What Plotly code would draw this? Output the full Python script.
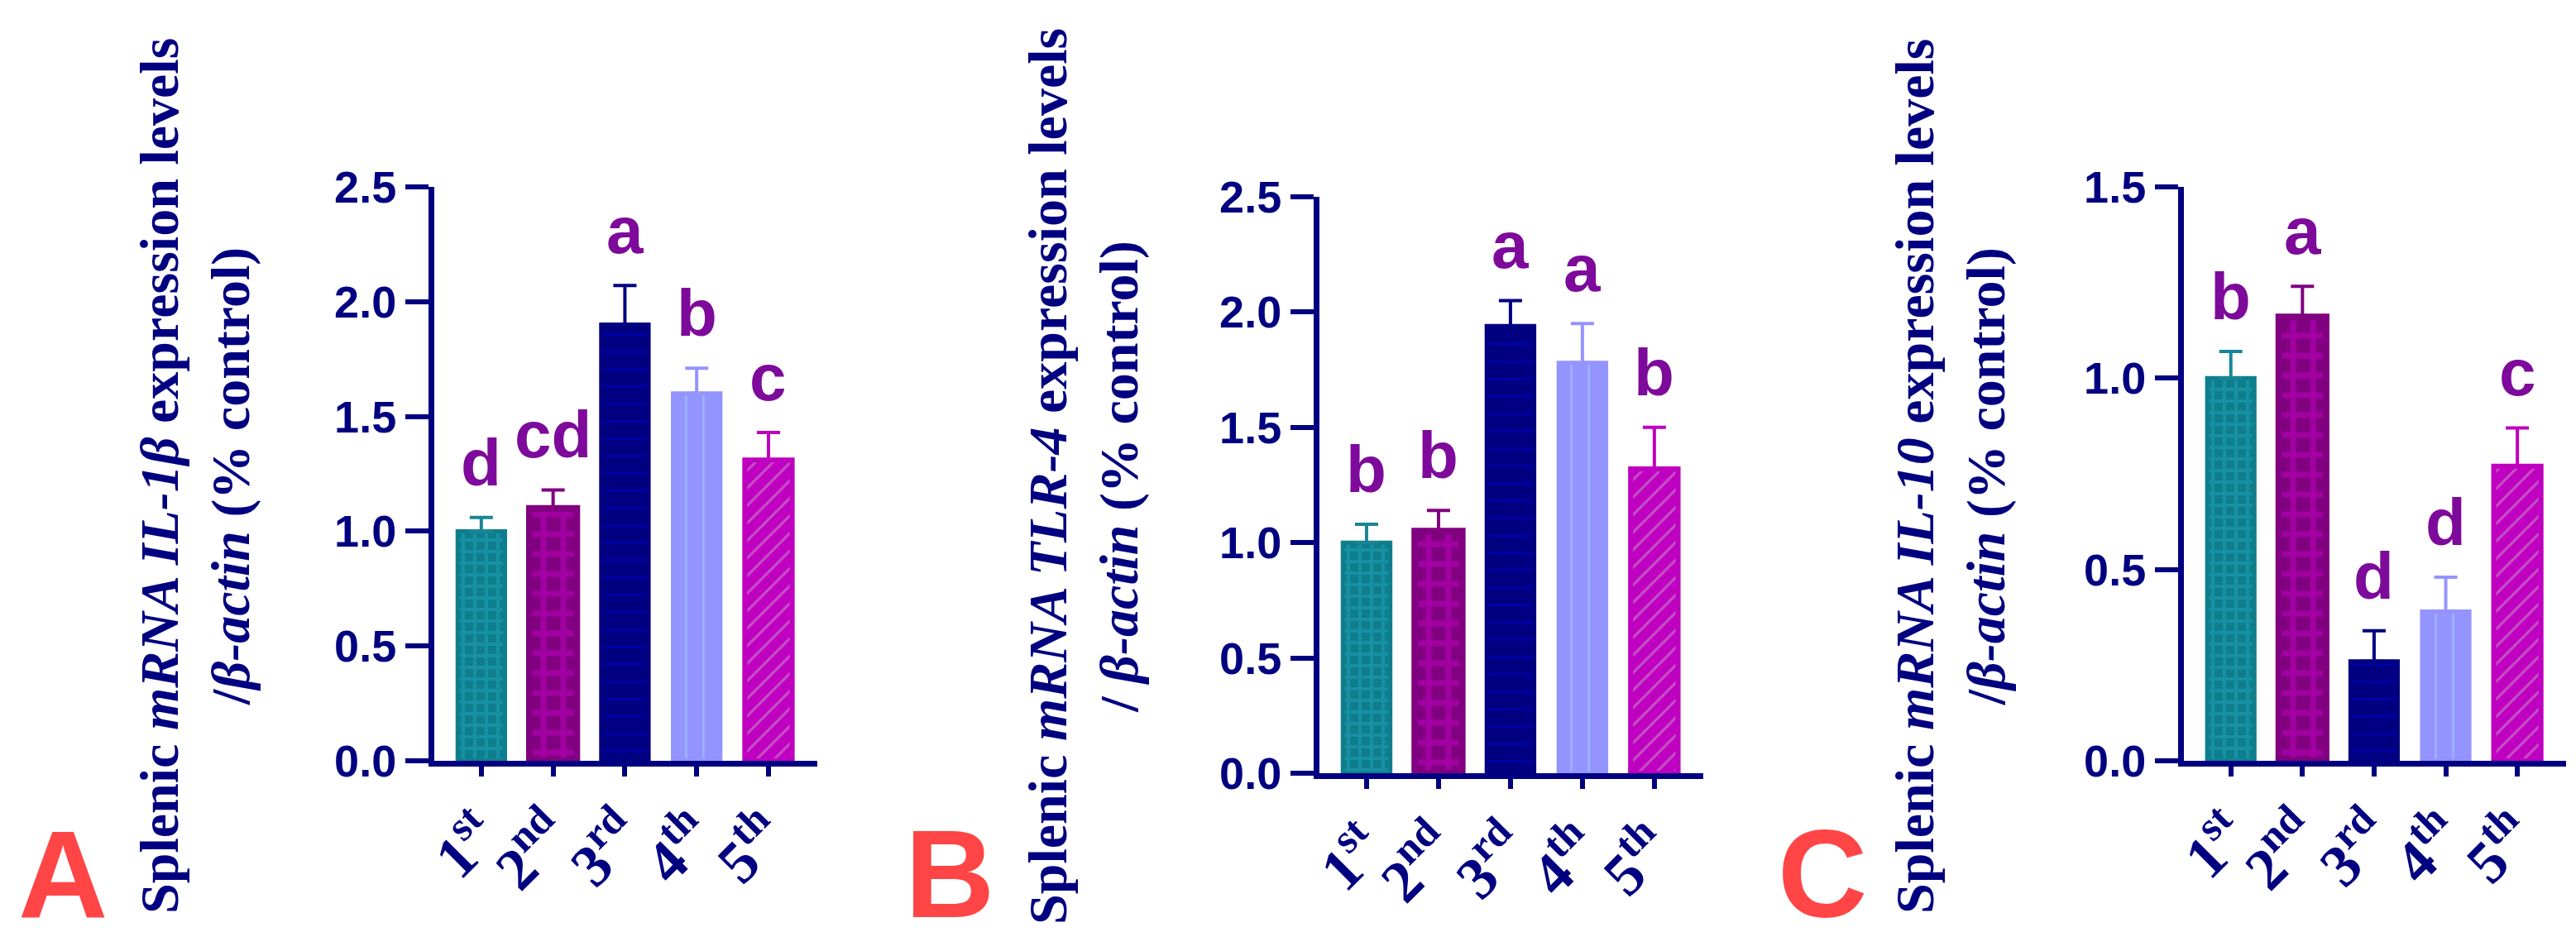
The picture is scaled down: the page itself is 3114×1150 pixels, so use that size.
import plotly.graph_objects as go

# ---------------- data ----------------
groups = ["1<sup>st</sup>", "2<sup>nd</sup>", "3<sup>rd</sup>", "4<sup>th</sup>", "5<sup>th</sup>"]

il1b_mean = [1.00, 1.10, 1.90, 1.60, 1.31]
il1b_sd = [0.06, 0.08, 0.17, 0.11, 0.12]
il1b_letters = ["d", "cd", "a", "b", "c"]

tlr4_mean = [1.00, 1.05, 1.94, 1.78, 1.32]
tlr4_sd = [0.08, 0.09, 0.11, 0.17, 0.18]
tlr4_letters = ["b", "b", "a", "a", "b"]

il10_mean = [1.00, 1.16, 0.26, 0.39, 0.77]
il10_sd = [0.07, 0.08, 0.08, 0.09, 0.10]
il10_letters = ["b", "a", "d", "d", "c"]

y_ticks_A = [0.0, 0.5, 1.0, 1.5, 2.0, 2.5]
y_ticks_C = [0.0, 0.5, 1.0, 1.5]

titles = [
    "Splenic <i>mRNA IL-1β</i> expression levels<br>/<i>β-actin</i> (% control)",
    "Splenic <i>mRNA TLR-4</i> expression levels<br>/ <i>β-actin</i> (% control)",
    "Splenic <i>mRNA IL-10</i> expression levels<br>/<i>β-actin</i> (% control)",
]
panel_labels = ["A", "B", "C"]

# ---------------- styles ----------------
W, H = 3114, 1150
NAVY = "#000080"
LETTER = "#7D0A9B"
bar_styles = [
    dict(bg="#0E7E8C", fg="#1FA2BA", line="#0E7E8C", lw=5, shape="+", size=14, sol=0.5, err="#1A8595"),
    dict(bg="#800080", fg="#C400C4", line="#800080", lw=8, shape="+", size=24, sol=0.5, err="#800080"),
    dict(bg="#000080", fg="#0000D0", line="#000080", lw=5, shape="-", size=21, sol=0.14, err="#000080"),
    dict(bg="#9494FF", fg="#A8D4FF", line="#9494FF", lw=5, shape="|", size=21, sol=0.12, err="#9494FF"),
    dict(bg="#C000C0", fg="#C8A6C8", line="#C000C0", lw=6, shape="/", size=15, sol=0.2, err="#C000C0"),
]

panels = [
    dict(mean=il1b_mean, sd=il1b_sd, letters=il1b_letters, ticks=y_ticks_A, ymax=2.5,
         x=(517, 980), y=(218, 912), title_x=228, label_x=68),
    dict(mean=tlr4_mean, sd=tlr4_sd, letters=tlr4_letters, ticks=y_ticks_A, ymax=2.5,
         x=(1587, 2051), y=(230, 927), title_x=1302, label_x=1140),
    dict(mean=il10_mean, sd=il10_sd, letters=il10_letters, ticks=y_ticks_C, ymax=1.5,
         x=(2632, 3094), y=(218, 912), title_x=2350, label_x=2195),
]

fig = go.Figure()
annotations = []
layout = {}

for p_i, p in enumerate(panels):
    sfx = "" if p_i == 0 else str(p_i + 1)
    xa, ya = "x" + sfx, "y" + sfx
    for i in range(len(groups)):
        s = bar_styles[i]
        fig.add_trace(go.Bar(
            x=[i], y=[p["mean"][i]], xaxis=xa, yaxis=ya, width=0.66,
            marker=dict(color=s["bg"], line=dict(color=s["line"], width=s["lw"]),
                        pattern=dict(shape=s["shape"], fgcolor=s["fg"], bgcolor=s["bg"],
                                     size=s["size"], solidity=s["sol"], fillmode="overlay")),
            error_y=dict(type="data", array=[p["sd"][i]], arrayminus=[0], symmetric=False,
                         color=s["err"], thickness=4, width=14),
            showlegend=False,
        ))
        annotations.append(dict(
            x=i, y=p["mean"][i] + p["sd"][i], xref=xa, yref=ya,
            text=p["letters"][i], showarrow=False, yanchor="bottom", yshift=20,
            font=dict(family="Liberation Sans", size=80, color=LETTER, weight="bold"),
        ))
    x0, x1 = p["x"]
    y0, y1 = p["y"]
    layout["xaxis" + sfx] = dict(
        domain=[x0 / W, x1 / W], anchor=ya, range=[-0.655, 4.68], automargin=False,
        tickvals=list(range(len(groups))), ticktext=groups, tickangle=-45,
        showline=True, linecolor=NAVY, linewidth=7, ticks="outside", ticklen=12,
        tickwidth=6, tickcolor=NAVY, showgrid=False, zeroline=False,
        tickfont=dict(family="Liberation Serif", size=72, color=NAVY, weight="bold"),
    )
    layout["yaxis" + sfx] = dict(
        domain=[1 - y1 / H, 1 - y0 / H], anchor=xa, range=[0, p["ymax"]], automargin=False,
        tickvals=p["ticks"], tickformat=".1f",
        showline=True, linecolor=NAVY, linewidth=7, ticks="outside", ticklen=28,
        tickwidth=6, tickcolor=NAVY, showgrid=False, zeroline=False,
        tickfont=dict(family="Liberation Sans", size=54, color=NAVY, weight="bold"),
    )
    annotations.append(dict(
        x=p["title_x"] / W, y=1 - 568 / H, xref="paper", yref="paper",
        text=titles[p_i], textangle=-90, showarrow=False,
        xanchor="center", yanchor="middle",
        font=dict(family="Liberation Serif", size=66, color=NAVY, weight="bold"),
    ))
    annotations.append(dict(
        x=p["label_x"] / W, y=1 - 1049 / H, xref="paper", yref="paper",
        text=panel_labels[p_i], showarrow=False, xanchor="center", yanchor="middle",
        font=dict(family="Liberation Sans", size=150, color="#FF4545", weight="bold"),
    ))

fig.update_layout(
    width=W, height=H, margin=dict(l=0, r=0, t=0, b=0),
    paper_bgcolor="white", plot_bgcolor="white",
    barmode="overlay", annotations=annotations, **layout,
)
fig.write_html("out.html")
